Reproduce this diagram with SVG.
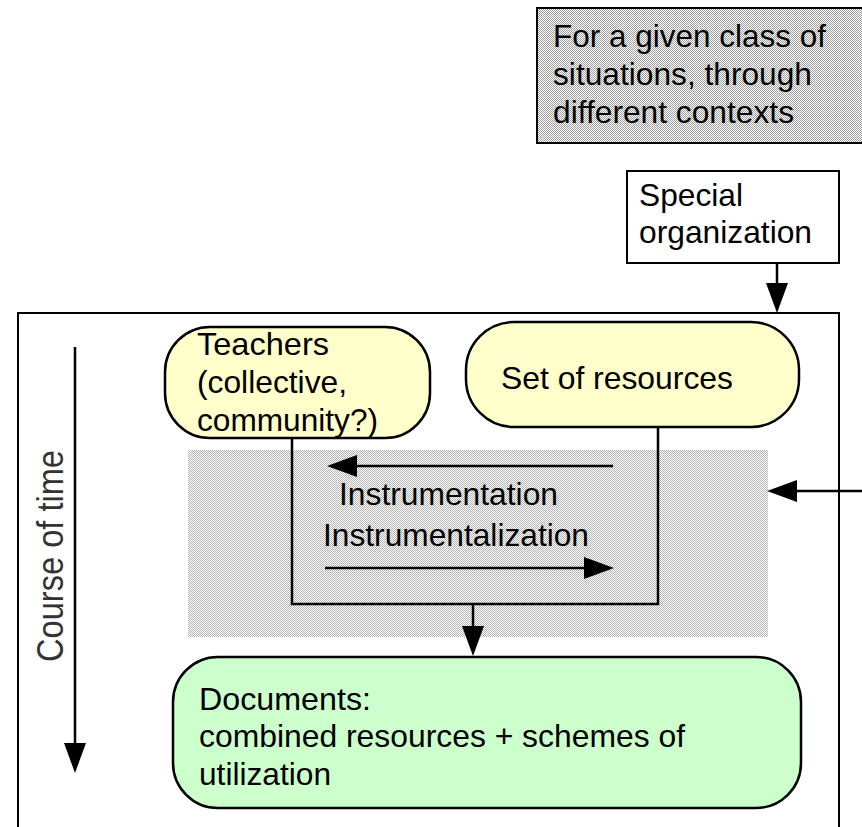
<svg xmlns="http://www.w3.org/2000/svg" width="862" height="827" viewBox="0 0 862 827">
  <style>
    .t { font-family: "Liberation Sans", Arial, sans-serif; font-size: 30.5px; fill: #000; }
    .box { stroke: #000; stroke-width: 2; }
    .node { stroke: #000; stroke-width: 2.5; }
    .yel { fill: #ffffcc; }
    .grn { fill: #ccffcc; }
    .ln { fill: none; stroke: #000; stroke-width: 2.5; }
  </style>
  <defs>
    <pattern id="dotsDark" patternUnits="userSpaceOnUse" width="2" height="2">
      <rect width="2" height="2" fill="#ffffff"/>
      <rect x="0" y="0" width="1" height="1" fill="#a0a0a0"/>
      <rect x="1" y="1" width="1" height="1" fill="#a0a0a0"/>
    </pattern>
    <pattern id="dotsLight" patternUnits="userSpaceOnUse" width="2" height="2">
      <rect width="2" height="2" fill="#ffffff"/>
      <rect x="0" y="0" width="1" height="1" fill="#b4b4b4"/>
      <rect x="1" y="1" width="1" height="1" fill="#b4b4b4"/>
    </pattern>
    <marker id="ah" markerUnits="userSpaceOnUse" markerWidth="30" markerHeight="22" refX="25" refY="11" orient="auto">
      <path d="M0,0 L30,11 L0,22 z" fill="#000"/>
    </marker>
  </defs>

  <rect x="0" y="0" width="862" height="827" fill="#ffffff"/>

  <g id="context-box">
    <rect class="box" x="537" y="8" width="332" height="135" fill="url(#dotsDark)"/>
    <text class="t" x="553" y="47" textLength="273" lengthAdjust="spacingAndGlyphs">For a given class of</text>
    <text class="t" x="553" y="85" textLength="259" lengthAdjust="spacingAndGlyphs">situations, through</text>
    <text class="t" x="553" y="123" textLength="241" lengthAdjust="spacingAndGlyphs">different contexts</text>
  </g>

  <g id="special-organization">
    <rect class="box" x="627" y="171" width="212" height="92" fill="#ffffff"/>
    <text class="t" x="639" y="206" textLength="104" lengthAdjust="spacingAndGlyphs">Special</text>
    <text class="t" x="639" y="243" textLength="173" lengthAdjust="spacingAndGlyphs">organization</text>
  </g>

  <g id="main-frame">
    <rect class="box" x="18" y="313" width="821" height="530" fill="#ffffff"/>
  </g>

  <g id="genesis-zone">
    <rect x="188" y="450" width="580" height="187" fill="url(#dotsLight)"/>
  </g>

  <g id="course-of-time">
    <text class="t" text-anchor="middle" transform="translate(63,556) rotate(-90) scale(1,1.13)" textLength="212" lengthAdjust="spacingAndGlyphs" style="font-size:33px;fill:#333">Course of time</text>
  </g>

  <g id="teachers">
    <rect class="node yel" x="165" y="327" width="265" height="111" rx="45" ry="45"/>
    <text class="t" x="197" y="355" textLength="132" lengthAdjust="spacingAndGlyphs">Teachers</text>
    <text class="t" x="197" y="393" textLength="150" lengthAdjust="spacingAndGlyphs">(collective,</text>
    <text class="t" x="197" y="431" textLength="181" lengthAdjust="spacingAndGlyphs">community?)</text>
  </g>

  <g id="set-of-resources">
    <rect class="node yel" x="466" y="322" width="333" height="105" rx="48" ry="48"/>
    <text class="t" x="501" y="389" textLength="232" lengthAdjust="spacingAndGlyphs">Set of resources</text>
  </g>

  <g id="documents">
    <rect class="node grn" x="173" y="657" width="628" height="151" rx="45" ry="45"/>
    <text class="t" x="199" y="710" textLength="172" lengthAdjust="spacingAndGlyphs">Documents:</text>
    <text class="t" x="199" y="747" textLength="486" lengthAdjust="spacingAndGlyphs">combined resources + schemes of</text>
    <text class="t" x="199" y="785" textLength="132" lengthAdjust="spacingAndGlyphs">utilization</text>
  </g>

  <g id="labels">
    <text class="t" x="339" y="505" textLength="219" lengthAdjust="spacingAndGlyphs">Instrumentation</text>
    <text class="t" x="323" y="546" textLength="266" lengthAdjust="spacingAndGlyphs">Instrumentalization</text>
  </g>

  <g id="connectors">
    <line class="ln" x1="777" y1="263" x2="777" y2="308" marker-end="url(#ah)"/>
    <line class="ln" x1="75" y1="347" x2="75" y2="768" marker-end="url(#ah)"/>
    <line class="ln" x1="870" y1="491" x2="772" y2="491" marker-end="url(#ah)"/>
    <line class="ln" x1="613" y1="466" x2="332" y2="466" marker-end="url(#ah)"/>
    <line class="ln" x1="325" y1="568" x2="609" y2="568" marker-end="url(#ah)"/>
    <polyline class="ln" points="292,437 292,604 658,604 658,427"/>
    <line class="ln" x1="473" y1="604" x2="473" y2="651" marker-end="url(#ah)"/>
  </g>
</svg>
